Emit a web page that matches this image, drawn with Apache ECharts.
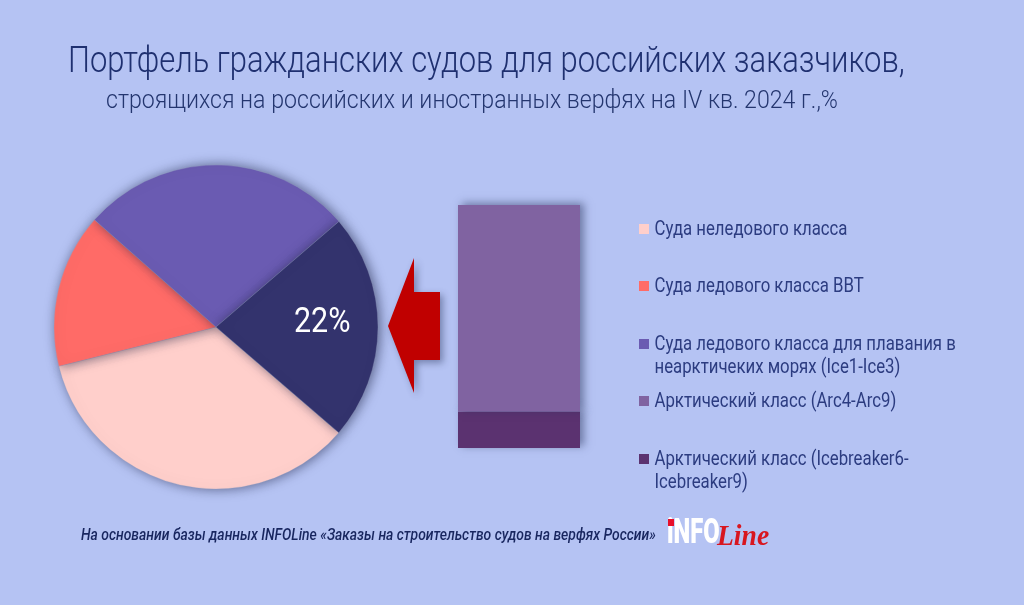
<!DOCTYPE html>
<html><head><meta charset="utf-8">
<style>html,body{margin:0;padding:0;background:#b5c3f3}#c{width:1024px;height:605px}</style>
<script src="https://cdn.jsdelivr.net/npm/echarts@6/dist/echarts.min.js"></script>
</head><body><div id="c"></div>
<script>
const titleLines = ['Портфель гражданских судов для российских заказчиков,', 'строящихся на российских и иностранных верфях на IV кв. 2024 г.,%'];
const sourceText = 'На основании базы данных INFOLine «Заказы на строительство судов на верфях России»';
const pieNames = ['Суда неледового класса', 'Суда ледового класса ВВТ', 'Суда ледового класса для плавания в\nнеарктичеких морях (Ice1-Ice3)', 'Арктический класс'];
const pieValues = [34.8, 15.4, 27.2, 22.6];
const pieColors = ['#ffcfcb', '#ff6b67', '#6a5bb2', '#33336d'];
const pieLabel = '22%';
const barNames = ['Арктический класс (Arc4-Arc9)', 'Арктический класс (Icebreaker6-\nIcebreaker9)'];
const barValues = [85, 15];
const barColors = ['#8063a1', '#5b3270'];
const legendNames = [pieNames[0], pieNames[1], pieNames[2], barNames[0], barNames[1]];
const legendColors = [pieColors[0], pieColors[1], pieColors[2], barColors[0], barColors[1]];
const legendY = [229, 286, 344, 401, 459];

const FONT = 'Roboto';
const narrow = (text, x, y, size, color, sx, extra) => ({
  type: 'text', x, y, scaleX: sx, silent: true, z: 10,
  style: Object.assign({ text, fontFamily: FONT, fontSize: size, fill: color, verticalAlign: 'middle', lineHeight: 23 }, extra || {})
});
const graphics = [
  narrow(titleLines[0], 68, 63, 36, '#1f3070', 0.86, { fontWeight: 300, lineHeight: 40 }),
  narrow(titleLines[1], 106, 101, 26.3, '#24366f', 0.88, { fontWeight: 300, lineHeight: 30 }),
  narrow(sourceText, 81, 536, 16, '#18265f', 0.87, { fontStyle: 'italic', fontWeight: 500 }),
  narrow(pieLabel, 294, 323, 35, '#ffffff', 0.87, { fontWeight: 400, lineHeight: 40 }),
  { type: 'polygon', z: 5, silent: true,
    shape: { points: [[388, 326], [414, 258], [414, 292], [440, 292], [440, 360], [414, 360], [414, 393]] },
    style: { fill: '#c00000', shadowBlur: 7, shadowOffsetX: 3, shadowOffsetY: 3, shadowColor: 'rgba(40,50,90,0.45)' } },
  narrow('iNFO', 667, 534, 35, '#ffffff', 0.68, { fontWeight: 900, lineHeight: 36 }),
  { type: 'rect', silent: true, z: 11, shape: { x: 668, y: 519, width: 6, height: 7 }, style: { fill: '#e8102a' } },
  narrow('Line', 717, 537, 30, '#d8161f', 0.92, { fontStyle: 'italic', fontWeight: 700, fontFamily: 'Liberation Serif', lineHeight: 30 })
];
legendNames.forEach((n, i) => {
  graphics.push({ type: 'rect', silent: true, shape: { x: 639, y: legendY[i] - 5, width: 10, height: 10 }, style: { fill: legendColors[i] } });
  graphics.push(narrow(n, 654.5, legendY[i] + 1 + (n.includes('\n') ? 11.5 : 0), 19.3, '#2c3c80', 0.87, { fontWeight: 400 }));
});

const chart = echarts.init(document.getElementById('c'), null, { renderer: 'canvas' });
chart.setOption({
  animation: false,
  backgroundColor: '#b5c3f3',
  grid: { left: 458, top: 205, width: 122, height: 243 },
  xAxis: { type: 'category', data: ['Арктический класс'], show: false },
  yAxis: { type: 'value', min: 0, max: 100, show: false },
  series: [
    { type: 'pie', center: [216, 327], radius: [0, 162], startAngle: -40.7, clockwise: true, silent: true,
      itemStyle: { borderColor: '#9aa3c4', borderWidth: 0.3, shadowBlur: 12, shadowOffsetX: 2, shadowOffsetY: 0, shadowColor: 'rgba(30,35,70,0.6)' },
      label: { show: false }, labelLine: { show: false },
      data: pieNames.map((name, i) => ({ name, value: pieValues[i], itemStyle: { color: pieColors[i] } })) },
    { type: 'bar', name: barNames[1], stack: 'a', barWidth: '100%', silent: true, data: [barValues[1]],
      itemStyle: { color: barColors[1], shadowBlur: 8, shadowOffsetX: 4, shadowOffsetY: -2, shadowColor: 'rgba(40,50,90,0.5)' } },
    { type: 'bar', name: barNames[0], stack: 'a', barWidth: '100%', silent: true, data: [barValues[0]],
      itemStyle: { color: barColors[0], shadowBlur: 8, shadowOffsetX: 4, shadowOffsetY: -2, shadowColor: 'rgba(40,50,90,0.5)' } }
  ],
  graphic: graphics
});
</script></body></html>
